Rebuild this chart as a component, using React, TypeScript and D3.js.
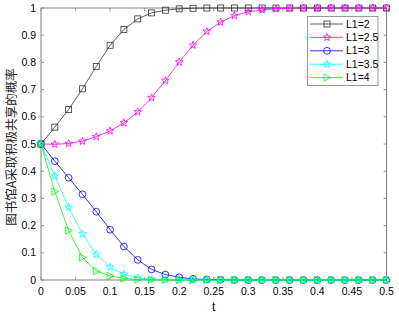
import React from "react";
import * as d3 from "d3";

const tValues = [0, 0.02, 0.04, 0.06, 0.08, 0.1, 0.12, 0.14, 0.16, 0.18, 0.2, 0.22, 0.24, 0.26, 0.28, 0.3, 0.32, 0.34, 0.36, 0.38, 0.4, 0.42, 0.44, 0.46, 0.48, 0.5];

const seriesL2 = [0.5, 0.562, 0.627, 0.703, 0.785, 0.863, 0.921, 0.96, 0.982, 0.992, 0.997, 0.999, 1, 1, 1, 1, 1, 1, 1, 1, 1, 1, 1, 1, 1, 1];
const seriesL25 = [0.5, 0.499, 0.502, 0.51, 0.527, 0.548, 0.578, 0.618, 0.67, 0.733, 0.801, 0.863, 0.914, 0.948, 0.972, 0.986, 0.993, 0.997, 0.999, 1, 1, 1, 1, 1, 1, 1];
const seriesL3 = [0.5, 0.437, 0.376, 0.315, 0.251, 0.185, 0.123, 0.074, 0.039, 0.02, 0.01, 0.004, 0.002, 0.001, 0, 0, 0, 0, 0, 0, 0, 0, 0, 0, 0, 0];
const seriesL35 = [0.5, 0.382, 0.267, 0.169, 0.094, 0.047, 0.021, 0.008, 0.003, 0.001, 0, 0, 0, 0, 0, 0, 0, 0, 0, 0, 0, 0, 0, 0, 0, 0];
const seriesL4 = [0.5, 0.325, 0.182, 0.083, 0.033, 0.015, 0.006, 0.002, 0.001, 0, 0, 0, 0, 0, 0, 0, 0, 0, 0, 0, 0, 0, 0, 0, 0, 0];

const seriesNames = ["L1=2", "L1=2.5", "L1=3", "L1=3.5", "L1=4"];
const seriesColors = ["#333333", "#ff00ff", "#0000ff", "#00ffff", "#00ff00"];
const seriesMarkers = ["square", "star", "circle", "star", "triangle"];
const seriesData = [seriesL2, seriesL25, seriesL3, seriesL35, seriesL4];

const xTicks = [0, 0.05, 0.1, 0.15, 0.2, 0.25, 0.3, 0.35, 0.4, 0.45, 0.5];
const yTicks = [0, 0.1, 0.2, 0.3, 0.4, 0.5, 0.6, 0.7, 0.8, 0.9, 1];
const xLabel = "t";
const yLabel = "图书馆A采取积极共享的概率";

const W = 399, H = 315;
const left = 41, right = 386.5, top = 8, bottom = 280;
const font = "'Liberation Sans', Arial, sans-serif";

function starPath(r: number) {
  const pts: string[] = [];
  const ri = r * 0.42;
  for (let i = 0; i < 10; i++) {
    const a = -Math.PI / 2 + (i * Math.PI) / 5;
    const rr = i % 2 === 0 ? r : ri;
    pts.push(`${(rr * Math.cos(a)).toFixed(2)},${(rr * Math.sin(a)).toFixed(2)}`);
  }
  return "M" + pts.join("L") + "Z";
}

function Marker({ kind, x, y, color }: { kind: string; x: number; y: number; color: string }) {
  const common = { fill: "none", stroke: color, strokeWidth: 0.8 };
  if (kind === "square") return <rect x={x - 3} y={y - 3} width={6} height={6} {...common} />;
  if (kind === "circle") return <circle cx={x} cy={y} r={3.4} {...common} />;
  if (kind === "star") return <path d={starPath(4)} transform={`translate(${x},${y})`} {...common} />;
  return <path d="M-3,-3.6L3.8,0L-3,3.6Z" transform={`translate(${x},${y})`} {...common} />;
}

export default function App() {
  const x = d3.scaleLinear().domain([0, 0.5]).range([left, right]);
  const y = d3.scaleLinear().domain([0, 1]).range([bottom, top]);
  const line = d3.line<number>().x((_, i) => x(tValues[i])).y((d) => y(d));
  const axisColor = "#808080";
  const tl = 3;
  const legX = 307.5, legY = 16.5, legW = 70.5, legH = 69;
  const rowY = (i: number) => 24 + i * 13.4;

  return (
    <svg width={W} height={H} style={{ position: "absolute", left: 0, top: 0, background: "#fff" }}>
      <rect x={0} y={0} width={W} height={H} fill="#fff" />
      {xTicks.map((t) => (
        <g key={"xt" + t}>
          <line x1={x(t)} x2={x(t)} y1={bottom} y2={bottom - tl} stroke={axisColor} strokeWidth={0.8} />
          <line x1={x(t)} x2={x(t)} y1={top} y2={top + tl} stroke={axisColor} strokeWidth={0.8} />
          <text x={x(t)} y={bottom + 15} textAnchor="middle" fontFamily={font} fontSize={10.5} fill="#000">
            {d3.format("")(t)}
          </text>
        </g>
      ))}
      {yTicks.map((t) => (
        <g key={"yt" + t}>
          <line x1={left} x2={left + tl} y1={y(t)} y2={y(t)} stroke={axisColor} strokeWidth={0.8} />
          <line x1={right} x2={right - tl} y1={y(t)} y2={y(t)} stroke={axisColor} strokeWidth={0.8} />
          <text x={left - 5} y={y(t)} dy="0.35em" textAnchor="end" fontFamily={font} fontSize={10.5} fill="#000">
            {d3.format("")(t)}
          </text>
        </g>
      ))}
      <rect x={left} y={top} width={right - left} height={bottom - top} fill="none" stroke={axisColor} strokeWidth={1} />
      {seriesData.map((data, si) => (
        <g key={"s" + si}>
          <path d={line(data) || ""} fill="none" stroke={seriesColors[si]} strokeWidth={0.8} />
          {data.map((d, i) => (
            <Marker key={i} kind={seriesMarkers[si]} x={x(tValues[i])} y={y(d)} color={seriesColors[si]} />
          ))}
        </g>
      ))}
      <rect x={legX} y={legY} width={legW} height={legH} fill="#fff" stroke={axisColor} strokeWidth={0.8} />
      {seriesNames.map((n, i) => (
        <g key={"l" + i}>
          <line x1={310} x2={343} y1={rowY(i)} y2={rowY(i)} stroke={seriesColors[i]} strokeWidth={0.8} />
          <Marker kind={seriesMarkers[i]} x={327} y={rowY(i)} color={seriesColors[i]} />
          <text x={346} y={rowY(i)} dy="0.35em" fontFamily={font} fontSize={10.5} fill="#000">
            {n}
          </text>
        </g>
      ))}
      <text x={(left + right) / 2} y={311} textAnchor="middle" fontFamily={font} fontSize={12} fill="#000">
        {xLabel}
      </text>
      <text
        transform={`translate(15.5,${(top + bottom) / 2 + 3}) rotate(-90)`}
        textAnchor="middle"
        fontFamily="'Noto Sans CJK SC', sans-serif"
        fontSize={12.5}
        fill="#222"
      >
        {yLabel}
      </text>
    </svg>
  );
}
